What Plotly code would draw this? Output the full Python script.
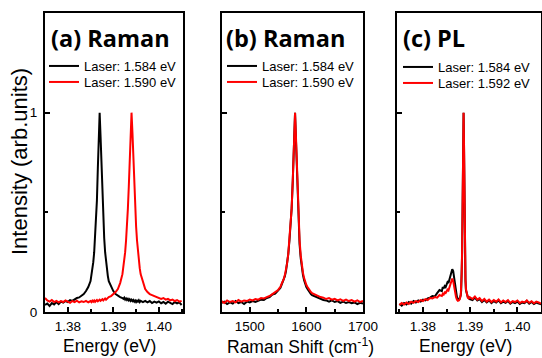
import plotly.graph_objects as go

# ---------------- Panel (a): Raman vs photon energy ----------------
energy_a = [1.3750, 1.3755, 1.3760, 1.3765, 1.3770, 1.3775, 1.3780, 1.3785, 1.3790, 1.3795,
            1.3800, 1.3805, 1.3810, 1.3815, 1.3820, 1.3825, 1.3830, 1.3835, 1.3840, 1.3845, 1.3850,
            1.3852, 1.3854, 1.3856, 1.3858, 1.3860, 1.3862, 1.3864, 1.3866, 1.3868, 1.3870,
            1.3872, 1.3874, 1.3876, 1.3878, 1.3880, 1.3882, 1.3884, 1.3886, 1.3888, 1.3890,
            1.3895, 1.3900, 1.3905, 1.3910, 1.3915, 1.3920,
            1.3922, 1.3924, 1.3926, 1.3928, 1.3930, 1.3932, 1.3934, 1.3936, 1.3938, 1.3940,
            1.3942, 1.3944, 1.3946, 1.3948, 1.3950, 1.3952, 1.3954, 1.3956, 1.3958, 1.3960,
            1.3965, 1.3970, 1.3975, 1.3980, 1.3985, 1.3990, 1.3995, 1.4000, 1.4005, 1.4010,
            1.4015, 1.4020, 1.4025, 1.4030, 1.4035, 1.4040, 1.4045, 1.4050]

raman_a_1584 = [0.035, 0.042, 0.030, 0.045, 0.038, 0.050, 0.040, 0.052, 0.047, 0.055,
                0.050, 0.060, 0.056, 0.064, 0.070, 0.073, 0.080, 0.090, 0.105, 0.125, 0.155,
                0.180, 0.210, 0.250, 0.300, 0.370, 0.460, 0.560, 0.720, 0.880, 1.000,
                0.880, 0.720, 0.580, 0.460, 0.370, 0.300, 0.250, 0.210, 0.180, 0.155,
                0.125, 0.105, 0.090, 0.080, 0.075, 0.070,
                0.066, 0.072, 0.062, 0.068, 0.060, 0.066, 0.058, 0.064, 0.056, 0.062,
                0.055, 0.060, 0.052, 0.058, 0.050, 0.057, 0.052, 0.059, 0.050, 0.056,
                0.050, 0.056, 0.048, 0.055, 0.045, 0.052, 0.047, 0.053, 0.044, 0.050,
                0.042, 0.052, 0.046, 0.040, 0.050, 0.043, 0.048, 0.035]

raman_a_1590 = [0.070, 0.058, 0.052, 0.060, 0.050, 0.056, 0.048, 0.055, 0.050, 0.058,
                0.052, 0.046, 0.055, 0.050, 0.057, 0.048, 0.054, 0.050, 0.056, 0.049, 0.055,
                0.050, 0.057, 0.052, 0.058, 0.051, 0.056, 0.060, 0.054, 0.058, 0.062,
                0.056, 0.060, 0.064, 0.058, 0.063, 0.068, 0.062, 0.066, 0.070, 0.075,
                0.080, 0.090, 0.100, 0.115, 0.145, 0.190,
                0.220, 0.255, 0.300, 0.360, 0.430, 0.520, 0.630, 0.760, 0.900, 1.000,
                0.900, 0.760, 0.630, 0.520, 0.430, 0.360, 0.300, 0.255, 0.220, 0.190,
                0.145, 0.115, 0.100, 0.090, 0.085, 0.080, 0.075, 0.070, 0.066, 0.070,
                0.062, 0.066, 0.058, 0.062, 0.055, 0.060, 0.052, 0.056]

# ---------------- Panel (b): Raman vs Raman shift ----------------
shift_b = [1450, 1455, 1460, 1465, 1470, 1475, 1480, 1485, 1490, 1495, 1500, 1505, 1510, 1515,
           1520, 1525, 1530, 1535, 1540, 1545, 1550,
           1552, 1554, 1556, 1558, 1560, 1562, 1564, 1566, 1568, 1570, 1572, 1574, 1576, 1578,
           1580, 1582, 1584, 1586, 1588, 1590, 1592, 1594, 1596, 1598, 1600, 1602, 1604, 1606,
           1608, 1610,
           1615, 1620, 1625, 1630, 1635, 1640, 1645, 1650, 1655, 1660, 1665, 1670, 1675, 1680,
           1685, 1690, 1695, 1700]

raman_b_1584 = [0.045, 0.052, 0.040, 0.048, 0.042, 0.055, 0.045, 0.050, 0.040, 0.052, 0.048,
                0.055, 0.050, 0.058, 0.062, 0.060, 0.070, 0.075, 0.088, 0.092, 0.105,
                0.112, 0.120, 0.135, 0.148, 0.160, 0.180, 0.205, 0.240, 0.290, 0.355, 0.430,
                0.520, 0.660, 0.850, 1.000, 0.830, 0.630, 0.460, 0.340, 0.270, 0.220, 0.185,
                0.160, 0.140, 0.125, 0.115, 0.105, 0.098, 0.090, 0.085,
                0.078, 0.070, 0.066, 0.060, 0.058, 0.052, 0.058, 0.050, 0.055, 0.046, 0.052,
                0.045, 0.050, 0.044, 0.048, 0.040, 0.046, 0.042]

raman_b_1590 = [0.055, 0.045, 0.058, 0.050, 0.055, 0.048, 0.060, 0.052, 0.058, 0.055, 0.062,
                0.058, 0.065, 0.062, 0.070, 0.068, 0.075, 0.080, 0.090, 0.098, 0.110,
                0.118, 0.125, 0.140, 0.150, 0.165, 0.185, 0.210, 0.245, 0.290, 0.360, 0.430,
                0.520, 0.660, 0.850, 1.000, 0.850, 0.650, 0.480, 0.360, 0.285, 0.232, 0.196,
                0.170, 0.150, 0.135, 0.125, 0.115, 0.108, 0.100, 0.095,
                0.088, 0.080, 0.075, 0.072, 0.065, 0.070, 0.062, 0.066, 0.058, 0.064, 0.056,
                0.062, 0.055, 0.060, 0.052, 0.058, 0.050, 0.055]

# ---------------- Panel (c): PL vs photon energy ----------------
energy_c = [1.3750, 1.3755, 1.3760, 1.3765, 1.3770, 1.3775, 1.3780, 1.3785, 1.3790, 1.3795,
            1.3800, 1.3805, 1.3810, 1.3815, 1.3820, 1.3825, 1.3830, 1.3835, 1.3840,
            1.3842, 1.3844, 1.3846, 1.3848, 1.3850, 1.3852, 1.3854, 1.3856, 1.3858, 1.3860,
            1.3862, 1.3864, 1.3866, 1.3868, 1.3870, 1.3872, 1.3874, 1.3876, 1.3878, 1.3880,
            1.3881, 1.3882, 1.3883, 1.3884, 1.3885, 1.3886, 1.3887, 1.3888, 1.3889, 1.3890,
            1.3891,
            1.3893, 1.3895, 1.3897, 1.3899,
            1.3905, 1.3910, 1.3915, 1.3920, 1.3925, 1.3930, 1.3935, 1.3940, 1.3945, 1.3950,
            1.3955, 1.3960, 1.3965, 1.3970, 1.3975, 1.3980, 1.3985, 1.3990, 1.3995, 1.4000,
            1.4005, 1.4010, 1.4015, 1.4020, 1.4025, 1.4030, 1.4035, 1.4040, 1.4045, 1.4050]

pl_c_1584 = [0.040, 0.032, 0.045, 0.038, 0.050, 0.042, 0.055, 0.048, 0.058, 0.052,
             0.062, 0.058, 0.068, 0.072, 0.080, 0.078, 0.095, 0.110, 0.105,
             0.125, 0.118, 0.130, 0.125, 0.140, 0.150, 0.145, 0.165, 0.175, 0.195,
             0.215, 0.205, 0.175, 0.130, 0.095, 0.075, 0.065, 0.062, 0.068, 0.085,
             0.110, 0.170, 0.300, 0.550, 0.850, 1.000, 0.820, 0.500, 0.280, 0.160,
             0.110,
             0.085, 0.075, 0.070, 0.065,
             0.060, 0.072, 0.058, 0.065, 0.050, 0.060, 0.048, 0.058, 0.045, 0.055,
             0.048, 0.058, 0.044, 0.052, 0.046, 0.055, 0.042, 0.050, 0.045, 0.052,
             0.040, 0.048, 0.044, 0.055, 0.042, 0.050, 0.040, 0.047, 0.043, 0.038]

pl_c_1592 = [0.035, 0.045, 0.038, 0.048, 0.040, 0.052, 0.046, 0.055, 0.050, 0.060,
             0.055, 0.065, 0.060, 0.070, 0.068, 0.075, 0.072, 0.085, 0.080,
             0.092, 0.088, 0.098, 0.095, 0.105, 0.112, 0.108, 0.125, 0.140, 0.158,
             0.168, 0.155, 0.125, 0.095, 0.075, 0.062, 0.056, 0.058, 0.065, 0.085,
             0.120, 0.190, 0.330, 0.580, 0.870, 1.000, 0.840, 0.520, 0.300, 0.170,
             0.115,
             0.088, 0.072, 0.068, 0.075,
             0.065, 0.078, 0.062, 0.070, 0.055, 0.066, 0.052, 0.062, 0.050, 0.060,
             0.052, 0.063, 0.048, 0.058, 0.050, 0.060, 0.046, 0.055, 0.050, 0.058,
             0.045, 0.052, 0.048, 0.058, 0.046, 0.054, 0.044, 0.052, 0.048, 0.042]

legend_names_a = ["Laser: 1.584 eV", "Laser: 1.590 eV"]
legend_names_b = ["Laser: 1.584 eV", "Laser: 1.590 eV"]
legend_names_c = ["Laser: 1.584 eV", "Laser: 1.592 eV"]
panel_titles = ["(a) Raman", "(b) Raman", "(c) PL"]

W, H = 542, 358
FONT = "Liberation Sans, Arial, sans-serif"
BOLD = "Open Sans, sans-serif"


def px(xp):
    return xp / W


def py(yp):
    return 1 - yp / H


fig = go.Figure()

series = [
    (energy_a, raman_a_1584, "black", legend_names_a[0], "x", "y", "legend"),
    (energy_a, raman_a_1590, "#ff0000", legend_names_a[1], "x", "y", "legend2"),
    (shift_b, raman_b_1584, "black", legend_names_b[0], "x2", "y2", "legend3"),
    (shift_b, raman_b_1590, "#ff0000", legend_names_b[1], "x2", "y2", "legend4"),
    (energy_c, pl_c_1584, "black", legend_names_c[0], "x3", "y3", "legend5"),
    (energy_c, pl_c_1592, "#ff0000", legend_names_c[1], "x3", "y3", "legend6"),
]
for xs, ys, col, nm, xa, ya, lg in series:
    fig.add_trace(go.Scatter(x=xs, y=ys, mode="lines", name=nm,
                             line=dict(color=col, width=2), showlegend=True,
                             xaxis=xa, yaxis=ya, legend=lg))

axis_common = dict(showline=True, linewidth=2, linecolor="black", mirror=True,
                   ticks="inside", ticklen=5, tickwidth=2, tickcolor="black",
                   showgrid=False, zeroline=False, automargin=False,
                   tickfont=dict(family=FONT, size=13.5, color="black"))
minor_common = dict(ticks="inside", ticklen=3, tickwidth=2, tickcolor="black")

ydom = [py(312), py(13)]
xdoms = [[px(45), px(183)], [px(222), px(363)], [px(397), px(541)]]

fig.update_layout(
    width=W, height=H,
    showlegend=True,
    margin=dict(l=0, r=0, t=0, b=0, autoexpand=False),
    paper_bgcolor="white", plot_bgcolor="white",
    xaxis=dict(domain=xdoms[0], range=[1.375, 1.4053], anchor="y",
               tickvals=[1.38, 1.39, 1.40], ticktext=["1.38", "1.39", "1.40"],
               ticklabelstandoff=1,
               minor=dict(tickvals=[1.375, 1.385, 1.395, 1.405], **minor_common),
               **axis_common),
    yaxis=dict(domain=ydom, range=[0, 1.5], anchor="x",
               tickvals=[0, 1], ticktext=["0", "1"], ticklabelstandoff=3,
               minor=dict(tickvals=[0.5], **minor_common),
               **axis_common),
    xaxis2=dict(domain=xdoms[1], range=[1451, 1700], anchor="y2",
                tickvals=[1500, 1600, 1700], ticklabelstandoff=1,
                minor=dict(tickvals=[1550, 1650], **minor_common),
                **axis_common),
    yaxis2=dict(domain=ydom, range=[0, 1.5], anchor="x2", showticklabels=False,
                tickvals=[0, 1],
                minor=dict(tickvals=[0.5], **minor_common),
                **axis_common),
    xaxis3=dict(domain=xdoms[2], range=[1.3745, 1.405], anchor="y3",
                tickvals=[1.38, 1.39, 1.40], ticktext=["1.38", "1.39", "1.40"],
                ticklabelstandoff=1,
                minor=dict(tickvals=[1.375, 1.385, 1.395], **minor_common),
                **axis_common),
    yaxis3=dict(domain=ydom, range=[0, 1.5], anchor="x3", showticklabels=False,
                tickvals=[0, 1],
                minor=dict(tickvals=[0.5], **minor_common),
                **axis_common),
)

leg_common = dict(xanchor="left", yanchor="middle", bgcolor="rgba(0,0,0,0)",
                   borderwidth=0, itemwidth=30, visible=True,
                   font=dict(family=FONT, size=13, color="black"))
leg_x = [44, 44, 222, 222, 398, 398]
leg_y = [66, 82, 66, 82, 67, 83]
for i, nm in enumerate(["legend", "legend2", "legend3", "legend4", "legend5", "legend6"]):
    fig.update_layout(**{nm: dict(x=px(leg_x[i]), y=py(leg_y[i]), **leg_common)})

# panel titles
for t, xl in zip(panel_titles, [49, 224, 401]):
    fig.add_annotation(text="<b>" + t + "</b>", x=px(xl), y=py(38), xref="paper", yref="paper",
                       xanchor="left", yanchor="middle", showarrow=False,
                       font=dict(family=BOLD, size=23.5, color="black"))

# axis titles
xtitles = [("Energy (eV)", 109.5), ("Raman Shift (cm<sup>-1</sup>)", 300), ("Energy (eV)", 465)]
for t, xc in xtitles:
    fig.add_annotation(text=t, x=px(xc), y=py(346), xref="paper", yref="paper",
                       xanchor="center", yanchor="middle", showarrow=False,
                       font=dict(family=FONT, size=17.5, color="black"))
fig.add_annotation(text="Intensity (arb.units)", x=px(19), y=py(162), xref="paper", yref="paper",
                   xanchor="center", yanchor="middle", showarrow=False, textangle=-90,
                   font=dict(family=FONT, size=22, color="black"))

fig.write_html("out.html")
